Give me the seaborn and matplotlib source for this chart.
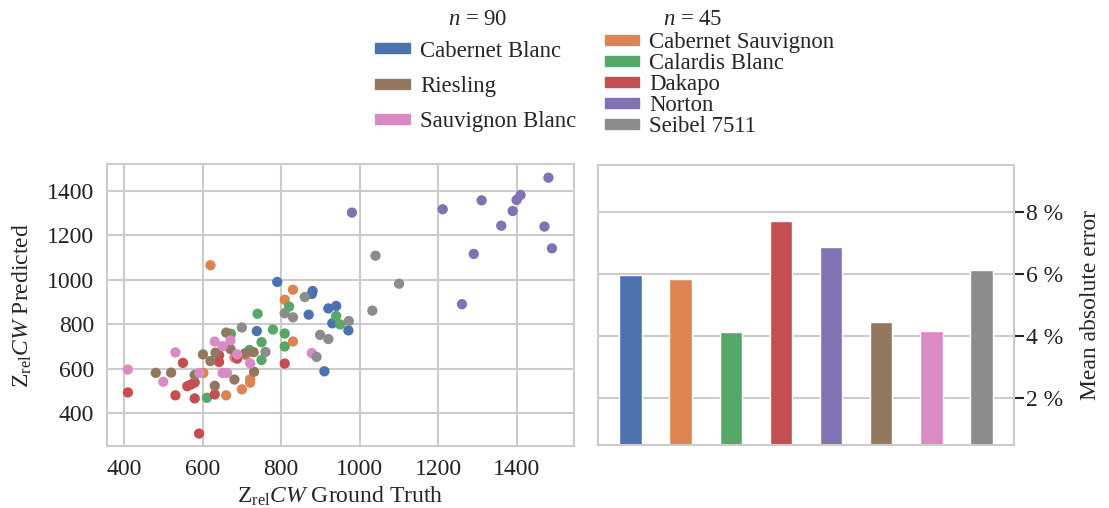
import seaborn as sns
import matplotlib.pyplot as plt
import matplotlib.patches as mpatches
import pandas as pd

# sorten (alphabetisch, wie die Farbreihenfolge der Palette)
varieties = ['Cabernet Blanc', 'Cabernet Sauvignon', 'Calardis Blanc', 'Dakapo',
             'Norton', 'Riesling', 'Sauvignon Blanc', 'Seibel 7511']

# mittlerer absoluter Fehler in %
mae = [5.97, 5.84, 4.14, 7.70, 6.86, 4.46, 4.18, 6.12]

# Ground Truth / Predicted je Sorte
cab_blanc_true = [790, 880, 878, 870, 920, 940, 930, 971, 738, 910]
cab_blanc_pred = [991, 950, 937, 844, 872, 883, 805, 773, 770, 589]

cab_sauv_true = [620, 830, 809, 830, 721, 721, 700, 660, 602, 681, 710]
cab_sauv_pred = [1066, 956, 911, 723, 553, 538, 508, 481, 582, 651, 662]

calardis_true = [820, 940, 950, 740, 779, 809, 750, 809, 719, 750, 672, 611]
calardis_pred = [880, 838, 800, 848, 777, 759, 720, 701, 685, 640, 758, 470]

dakapo_true = [410, 550, 531, 561, 571, 580, 580, 631, 591, 642, 642, 688, 809]
dakapo_pred = [494, 627, 481, 522, 530, 539, 467, 485, 309, 631, 661, 646, 624]

norton_true = [980, 1480, 1310, 1211, 1399, 1409, 1389, 1360, 1470, 1489, 1290, 1260]
norton_pred = [1303, 1460, 1358, 1318, 1360, 1382, 1310, 1244, 1240, 1142, 1117, 891]

riesling_true = [481, 520, 580, 601, 620, 633, 660, 671, 681, 631, 708, 730, 731]
riesling_pred = [582, 583, 573, 665, 635, 673, 763, 689, 552, 524, 670, 675, 587]

sauv_blanc_true = [410, 531, 500, 592, 651, 662, 631, 651, 671, 688, 721, 878]
sauv_blanc_pred = [597, 674, 542, 582, 582, 582, 723, 702, 728, 665, 625, 671]

seibel_true = [1040, 1100, 1032, 860, 809, 830, 972, 899, 920, 890, 700, 760]
seibel_pred = [1109, 983, 862, 923, 850, 832, 815, 753, 734, 654, 786, 676]

groups = [cab_blanc_true, cab_sauv_true, calardis_true, dakapo_true,
          norton_true, riesling_true, sauv_blanc_true, seibel_true]
groups_pred = [cab_blanc_pred, cab_sauv_pred, calardis_pred, dakapo_pred,
               norton_pred, riesling_pred, sauv_blanc_pred, seibel_pred]

rows = []
for name, xs, ys in zip(varieties, groups, groups_pred):
    for a, b in zip(xs, ys):
        rows.append({'sorte': name, 'true': a, 'pred': b})
df = pd.DataFrame(rows)
df_mae = pd.DataFrame({'sorte': varieties, 'mae': mae})

sns.set_theme(style='whitegrid', palette='deep')
plt.rcParams['font.family'] = ['Liberation Serif', 'DejaVu Serif']
plt.rcParams['mathtext.fontset'] = 'custom'
plt.rcParams['mathtext.rm'] = 'Liberation Serif'
plt.rcParams['mathtext.it'] = 'Liberation Serif:italic'
plt.rcParams['font.size'] = 17
plt.rcParams['axes.edgecolor'] = '.8'
plt.rcParams['axes.linewidth'] = 1.5
plt.rcParams['grid.color'] = '.8'
plt.rcParams['grid.linewidth'] = 1.5

colors = sns.color_palette('deep', 8)
pal = dict(zip(varieties, colors))

fig = plt.figure(figsize=(11.09, 5.08), dpi=100)
ax1 = fig.add_axes([0.0962, 0.122, 0.4217, 0.5545])
ax2 = fig.add_axes([0.5392, 0.124, 0.3751, 0.5512])

# Streudiagramm
sns.scatterplot(data=df, x='true', y='pred', hue='sorte', palette=pal,
                s=55, linewidth=0, alpha=1, legend=False, ax=ax1)
ax1.set_xlim(356, 1546)
ax1.set_ylim(253, 1520)
ax1.set_xticks([400, 600, 800, 1000, 1200, 1400])
ax1.set_yticks([400, 600, 800, 1000, 1200, 1400])
ax1.tick_params(axis='both', labelsize=17, colors='#222222', pad=9, length=0)
ax1.set_xlabel(r'Z$_\mathrm{rel}$$\mathit{CW}$ Ground Truth', fontsize=17, labelpad=4)
ax1.set_ylabel(r'Z$_\mathrm{rel}$$\mathit{CW}$ Predicted', fontsize=17, labelpad=9)
ax1.set_axisbelow(True)

# Balkendiagramm
sns.barplot(data=df_mae, x='sorte', y='mae', hue='sorte', palette=pal,
            width=0.45, saturation=1, legend=False, ax=ax2)
ax2.set_xlim(-0.65, 7.65)
ax2.set_ylim(0.5, 9.5)
ax2.set_xticks([])
ax2.set_xlabel('')
ax2.grid(axis='x', visible=False)
ax2.yaxis.tick_right()
ax2.yaxis.set_label_position('right')
ax2.set_yticks([2, 4, 6, 8])
ax2.set_yticklabels(['2 %', '4 %', '6 %', '8 %'])
ax2.tick_params(axis='y', labelsize=17, colors='#222222', length=7, width=1.5,
                pad=2, right=True, left=False)
ax2.set_ylabel('Mean absolute error', fontsize=17, labelpad=12)
ax2.set_axisbelow(True)

# Legende in zwei Spalten
left_names = ['Cabernet Blanc', 'Riesling', 'Sauvignon Blanc']
right_names = ['Cabernet Sauvignon', 'Calardis Blanc', 'Dakapo', 'Norton', 'Seibel 7511']
h_left = [mpatches.Patch(color=pal[n], label=n) for n in left_names]
h_right = [mpatches.Patch(color=pal[n], label=n) for n in right_names]

leg1 = fig.legend(handles=h_left, loc='upper left', bbox_to_anchor=(0.3385, 0.92),
                  frameon=False, fontsize=16.4, handlelength=1.5, handleheight=0.3,
                  handletextpad=0.45, labelspacing=0.62, borderpad=0, borderaxespad=0)
leg2 = fig.legend(handles=h_right, loc='upper left', bbox_to_anchor=(0.5455, 0.937),
                  frameon=False, fontsize=16.4, handlelength=1.5, handleheight=0.3,
                  handletextpad=0.45, labelspacing=0.0, borderpad=0, borderaxespad=0)
fig.text(0.431, 0.962, r'$n$ = 90', ha='center', va='center', fontsize=16.4)
fig.text(0.625, 0.962, r'$n$ = 45', ha='center', va='center', fontsize=16.4)

fig.savefig('out.png', dpi=100)
